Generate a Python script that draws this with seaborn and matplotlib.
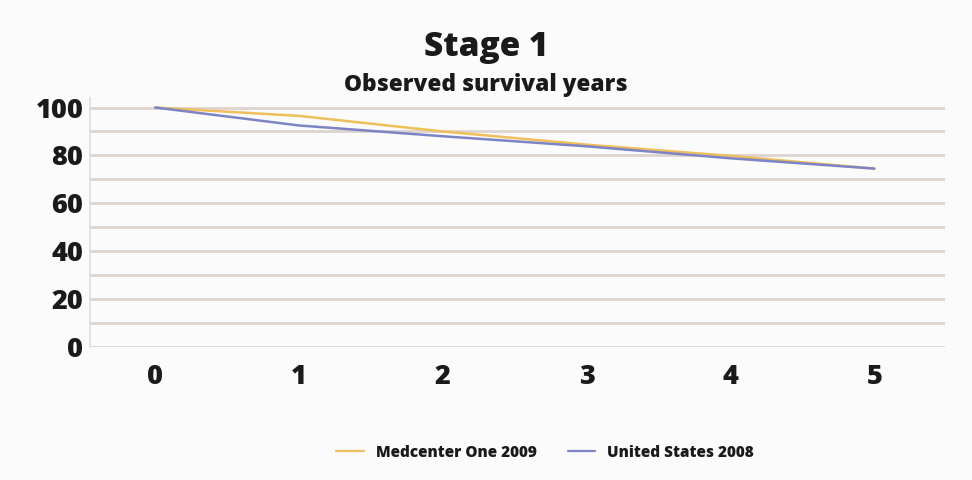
import matplotlib
matplotlib.use("Agg")
import matplotlib.pyplot as plt
import seaborn as sns
import pandas as pd
from matplotlib.lines import Line2D

years = [0, 1, 2, 3, 4, 5]
medcenter = [100, 96.5, 90.0, 84.5, 79.8, 74.5]
united_states = [100, 92.5, 88.0, 83.8, 78.8, 74.5]
series_names = ["Medcenter One 2009", "United States 2008"]
y_ticks = [0, 20, 40, 60, 80, 100]

df = pd.DataFrame({
    "year": years * 2,
    "value": medcenter + united_states,
    "series": [series_names[0]] * len(years) + [series_names[1]] * len(years),
})

sns.set_theme(style="white")
plt.rcParams["font.family"] = ["Open Sans", "DejaVu Sans"]

fig = plt.figure(figsize=(9.72, 4.8), dpi=100)
fig.patch.set_facecolor("#fbfbfb")
ax = fig.add_axes([0.093, 0.277, 0.879, 0.519])
ax.set_facecolor("#fbfbfb")

for v in range(0, 101, 10):
    ax.axhline(v, color="#ddd3cf", lw=2.0, zorder=0)

palette = {series_names[0]: "#efbf5a", series_names[1]: "#7c84c6"}
sns.lineplot(data=df, x="year", y="value", hue="series", palette=palette,
             lw=1.8, ax=ax, legend=False, zorder=3)

ax.set_xlim(-0.45, 5.49)
ax.set_ylim(0, 104)
ax.set_xticks(years)
ax.set_yticks(y_ticks)
ax.set_xticklabels([str(y) for y in years], fontsize=19.5, fontweight="heavy", color="#1a1a1a")
ax.set_yticklabels([str(y) for y in y_ticks], fontsize=19.5, fontweight="heavy", color="#1a1a1a")
ax.tick_params(axis="x", pad=12, length=0)
ax.tick_params(axis="y", pad=5, length=0)
ax.set_xlabel("")
ax.set_ylabel("")
for s in ["top", "right", "bottom"]:
    ax.spines[s].set_visible(False)
ax.spines["left"].set_color("#dddddd")
ax.spines["left"].set_linewidth(1.2)

fig.text(0.5, 0.903, "Stage 1", ha="center", va="center", fontsize=24, fontweight="heavy", color="#1a1a1a")
fig.text(0.5, 0.822, "Observed survival years", ha="center", va="center", fontsize=16.3, fontweight="heavy", color="#1a1a1a")

handles = [Line2D([0], [0], color=palette[n], lw=1.6) for n in series_names]
leg = fig.legend(handles, series_names, loc="center", bbox_to_anchor=(0.561, 0.057), ncol=2,
                 frameon=False, handlelength=1.8, handletextpad=0.8, columnspacing=2.0,
                 prop={"weight": "heavy", "size": 11})
for t in leg.get_texts():
    t.set_color("#1a1a1a")

fig.savefig("out.png", dpi=100, facecolor=fig.get_facecolor())
